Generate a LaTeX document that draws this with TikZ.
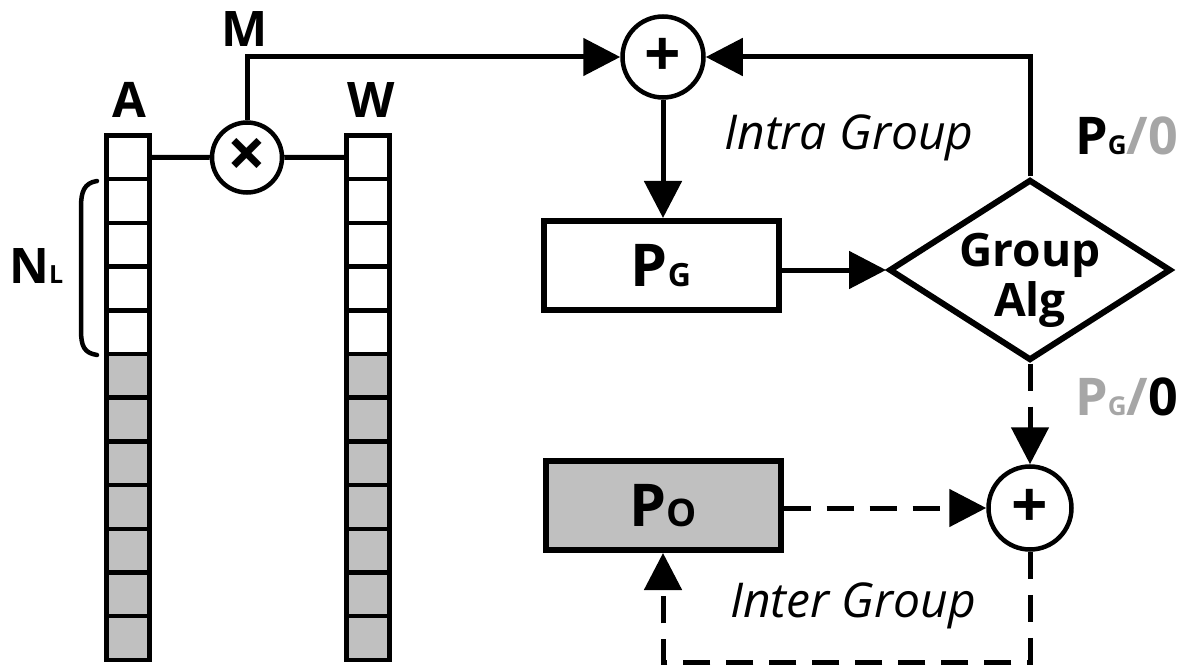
\documentclass[tikz,border=0pt]{standalone}
\usepackage{fontspec}
\setmainfont{Open Sans}
\usetikzlibrary{arrows.meta,shapes.geometric}
\definecolor{cellgray}{RGB}{192,192,192}
\definecolor{txtgray}{RGB}{166,166,166}
\begin{document}
\begin{tikzpicture}[x=1pt,y=-1pt,
  line join=miter,
  conn/.style={line width=5pt},
  arr/.style={-{Triangle[length=37pt,width=37pt]}},
  dsh/.style={dash pattern=on 27pt off 16pt},
  cell/.style={draw,line width=4.5pt,minimum width=43pt,minimum height=43.7pt,inner sep=0pt,outer sep=0pt},
  opnode/.style={draw,circle,line width=4.5pt,inner sep=0pt,minimum size=70pt,fill=white},
  box/.style={draw,line width=6pt,minimum width=235pt,minimum height=89pt,inner sep=0pt},
  lbl/.style={inner sep=0pt,font=\fontsize{49}{49}\selectfont\bfseries},
  itl/.style={inner sep=0pt,font=\fontsize{48}{48}\selectfont\itshape}
]
\path[use as bounding box] (0,0) rectangle (1179,666);

% memory columns
\foreach \i in {1,...,12}{
  \ifnum\i>5 \def\cf{cellgray}\else\def\cf{white}\fi
  \node[cell,fill=\cf] (a\i) at (128,{135.5+43.7*(\i-0.5)}) {};
  \node[cell,fill=\cf] (w\i) at (368,{135.5+43.7*(\i-0.5)}) {};
}

% labels
\node[lbl,anchor=base] (lA) at (129,118) {A};
\node[lbl,anchor=base] (lW) at (371,118) {W};
\node[lbl,anchor=base] (lM) at (245,47) {M};
\node[lbl,anchor=base west] (lN) at (9,283) {N{\fontsize{25}{25}\selectfont L}};
\draw[line width=4.5pt,line cap=round] (97,181) .. controls (84,183) and (81,192) .. (81,207)
  -- (81,330) .. controls (81,346) and (84,353) .. (97,355);

% operators
\node[opnode] (mul) at (247,157.5) {\fontsize{68}{68}\selectfont\bfseries ×};
\node[opnode,minimum size=81pt] (p1) at (663,57) {\fontsize{64}{64}\selectfont\bfseries +};
\node[opnode,minimum size=83pt] (p2) at (1030,508) {\fontsize{64}{64}\selectfont\bfseries +};

% boxes
\node[box] (pg) at (661,265.5) {\fontsize{59}{59}\selectfont\bfseries P{\fontsize{32}{32}\selectfont G}};
\node[box,fill=cellgray] (po) at (663,505.5) {\fontsize{59}{59}\selectfont\bfseries P{\fontsize{38}{38}\selectfont O}};
\node[draw,diamond,line width=6pt,minimum width=282pt,minimum height=181pt,inner sep=0pt] (dia) at (1030,270) {};
\node[inner sep=0pt,font=\fontsize{46}{50}\selectfont\bfseries,align=center] (galg) at (1030,280) {Group\\Alg};

% texts
\node[itl,anchor=base] (intra) at (849,150) {Intra Group};
\node[itl,anchor=base] (inter) at (853,617) {Inter Group};
\node[lbl,font=\fontsize{52}{52}\selectfont\bfseries,anchor=base east] (lab1) at (1178,155) {P{\fontsize{26}{26}\selectfont G}\textcolor{txtgray}{/0}};
\node[lbl,font=\fontsize{52}{52}\selectfont\bfseries,anchor=base east] (lab2) at (1178,415) {\textcolor{txtgray}{P{\fontsize{26}{26}\selectfont G}/}0};

% connectors
\draw[conn] (a1.east) -- (mul.west);
\draw[conn] (mul.east) -- (w1.west);
\draw[conn,arr] (mul.north) |- (p1.west);
\draw[conn,arr] (dia.north) |- (p1.east);
\draw[conn,arr] (p1.south) -- (p1.south |- pg.north);
\draw[conn,arr] (pg.east |- dia.west) -- (dia.west);
\draw[conn,dsh,arr] (dia.south) -- (p2.north);
\draw[conn,dsh,arr] (po.east |- p2.west) -- (p2.west);
\coordinate (r1) at (1030,662);
\coordinate (r2) at (663,662);
\draw[conn,dsh,arr] (p2.south) -- (r1) -- (r2) -- (po.south);
\end{tikzpicture}
\end{document}
